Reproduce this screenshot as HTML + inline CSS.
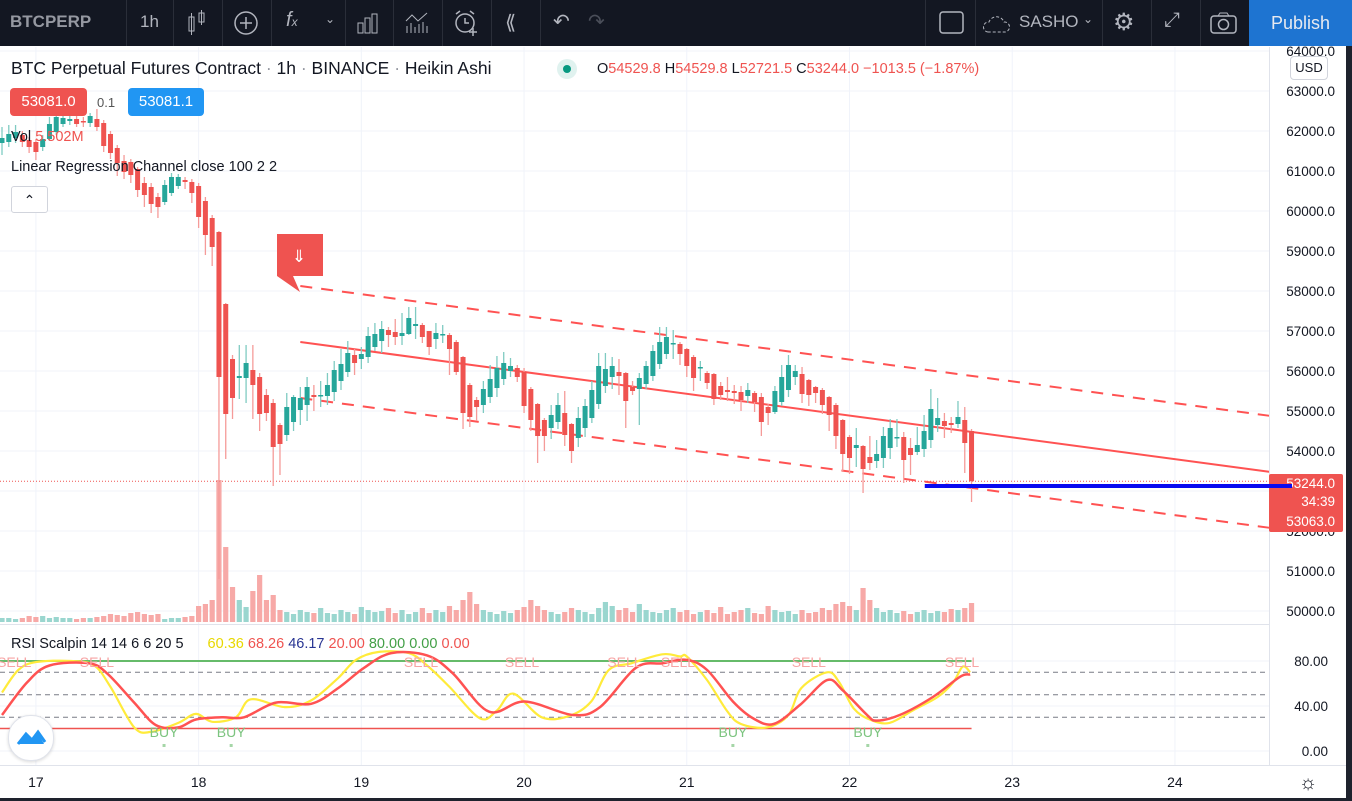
<!DOCTYPE html>
<html><head><meta charset="utf-8">
<style>
html,body{margin:0;padding:0;width:1352px;height:801px;overflow:hidden;background:#fff;font-family:"Liberation Sans",sans-serif}
#tb{position:absolute;left:0;top:0;width:1352px;height:46px;background:#131722;color:#b2b5be}
.sep{position:absolute;top:0;width:1px;height:46px;background:#2a2e39}
.ti{position:absolute;top:12px;font-size:17px;color:#b2b5be}
#chart{position:absolute;left:0;top:0}
</style></head><body>
<svg id="chart" width="1352" height="801" xmlns="http://www.w3.org/2000/svg" font-family="Liberation Sans, sans-serif">
<g id="grid"></g>
<g id="vol"></g>
<g id="chan"></g>
<g id="cand"></g>
<g id="rsi"></g>
<g id="axes"></g>
</svg>

<div id="tb">
  <div class="ti" style="left:10px;font-weight:bold;color:#9598a1">BTCPERP</div>
  <div class="sep" style="left:126px"></div>
  <div class="ti" style="left:140px;">1h</div>
  <div class="sep" style="left:173px"></div>
  <svg style="position:absolute;left:186px;top:10px" width="22" height="26"><rect x="3" y="7" width="5" height="14" fill="none" stroke="#b2b5be"/><line x1="5.5" y1="3" x2="5.5" y2="25" stroke="#b2b5be"/><rect x="13" y="3" width="5" height="9" fill="none" stroke="#b2b5be"/><line x1="15.5" y1="0" x2="15.5" y2="15" stroke="#b2b5be"/></svg>
  <div class="sep" style="left:222px"></div>
  <svg style="position:absolute;left:233px;top:10px" width="26" height="26"><circle cx="13" cy="13" r="11" fill="none" stroke="#b2b5be" stroke-width="1.5"/><line x1="13" y1="7" x2="13" y2="19" stroke="#b2b5be" stroke-width="1.5"/><line x1="7" y1="13" x2="19" y2="13" stroke="#b2b5be" stroke-width="1.5"/></svg>
  <div class="sep" style="left:271px"></div>
  <div class="ti" style="left:286px;top:9px;font-size:20px;font-style:italic">f<span style="font-size:12px">x</span></div>
  <div class="ti" style="left:325px;top:12px;font-size:12px">&#8964;</div>
  <div class="sep" style="left:345px"></div>
  <svg style="position:absolute;left:357px;top:13px" width="22" height="22"><rect x="1" y="10" width="5" height="10" fill="none" stroke="#b2b5be"/><rect x="8" y="5" width="5" height="15" fill="none" stroke="#b2b5be"/><rect x="15" y="1" width="5" height="19" fill="none" stroke="#b2b5be"/></svg>
  <div class="sep" style="left:393px"></div>
  <svg style="position:absolute;left:405px;top:12px" width="24" height="22"><polyline points="1,9 7,3 13,9 22,1" fill="none" stroke="#b2b5be"/><path d="M2 14v7M6 11v10M10 15v6M14 12v9M18 10v11M22 14v7" stroke="#b2b5be"/></svg>
  <div class="sep" style="left:442px"></div>
  <svg style="position:absolute;left:453px;top:9px" width="28" height="28"><circle cx="12" cy="14" r="9" fill="none" stroke="#b2b5be" stroke-width="1.5"/><path d="M12 9v5h4M3 5l4-3M21 5l-4-3M20 19v8M16 23h8" stroke="#b2b5be" stroke-width="1.5" fill="none"/></svg>
  <div class="sep" style="left:491px"></div>
  <div class="ti" style="left:505px;top:10px;font-size:20px">&#10218;</div>
  <div class="sep" style="left:540px"></div>
  <div class="ti" style="left:553px;top:9px;font-size:20px">&#8630;</div>
  <div class="ti" style="left:588px;top:9px;font-size:20px;color:#4a4e59">&#8631;</div>
  <div class="sep" style="left:925px"></div>
  <svg style="position:absolute;left:939px;top:11px" width="26" height="24"><rect x="1" y="1" width="23" height="21" rx="3" fill="none" stroke="#b2b5be" stroke-width="1.5"/></svg>
  <div class="sep" style="left:975px"></div>
  <svg style="position:absolute;left:983px;top:11px" width="28" height="24"><path d="M5 21a5 5 0 0 1 1-10a8 8 0 0 1 15 0a5 5 0 0 1 1 10z" fill="none" stroke="#b2b5be" stroke-dasharray="3 2"/></svg>
  <div class="ti" style="left:1019px;top:12px;font-size:17px">SASHO</div>
  <div class="ti" style="left:1083px;top:12px;font-size:12px">&#8964;</div>
  <div class="sep" style="left:1102px"></div>
  <div class="ti" style="left:1113px;top:8px;font-size:24px">&#9881;</div>
  <div class="sep" style="left:1151px"></div>
  <div class="ti" style="left:1164px;top:9px;font-size:20px">&#10530;</div>
  <div class="sep" style="left:1200px"></div>
  <svg style="position:absolute;left:1210px;top:12px" width="28" height="22"><rect x="1" y="4" width="25" height="17" rx="3" fill="none" stroke="#b2b5be" stroke-width="1.5"/><circle cx="13.5" cy="12.5" r="5" fill="none" stroke="#b2b5be" stroke-width="1.5"/><path d="M8 4l2-3h7l2 3" fill="none" stroke="#b2b5be"/></svg>
  <div style="position:absolute;left:1249px;top:0;width:103px;height:46px;background:#1e74d1;color:#e8eaf0;font-size:18px;line-height:46px;text-align:center">Publish</div>
</div>

<div style="position:absolute;left:11px;top:58px;font-size:17.5px;color:#131722;white-space:nowrap">BTC Perpetual Futures Contract <span style="color:#9598a1">·</span> 1h <span style="color:#9598a1">·</span> BINANCE <span style="color:#9598a1">·</span> Heikin Ashi</div>
<div style="position:absolute;left:557px;top:59px;width:20px;height:20px;border-radius:10px;background:#e0f2ef"><div style="position:absolute;left:6px;top:6px;width:8px;height:8px;border-radius:4px;background:#089981"></div></div>
<div style="position:absolute;left:597px;top:61px;font-size:14.5px;color:#131722;white-space:nowrap">O<span style="color:#ef5350">54529.8</span> H<span style="color:#ef5350">54529.8</span> L<span style="color:#ef5350">52721.5</span> C<span style="color:#ef5350">53244.0 −1013.5 (−1.87%)</span></div>
<div style="position:absolute;left:10px;top:88px;width:77px;height:28px;background:#ef5350;border-radius:4px;color:#fff;font-size:15px;line-height:28px;text-align:center">53081.0</div>
<div style="position:absolute;left:97px;top:95px;font-size:13px;color:#555">0.1</div>
<div style="position:absolute;left:128px;top:88px;width:76px;height:28px;background:#2196f3;border-radius:4px;color:#fff;font-size:15px;line-height:28px;text-align:center">53081.1</div>
<div style="position:absolute;left:11px;top:129px;font-size:14.5px;color:#131722">Vol <span style="color:#ef5350">5.502M</span></div>
<div style="position:absolute;left:11px;top:159px;font-size:14.5px;color:#131722">Linear Regression Channel close 100 2 2</div>
<div style="position:absolute;left:11px;top:186px;width:35px;height:25px;border:1px solid #d1d4dc;border-radius:3px;background:#fff;text-align:center;font-size:14px;line-height:26px;color:#131722">&#8963;</div>
<div style="position:absolute;left:11px;top:636px;font-size:14.5px;color:#131722;white-space:nowrap">RSI Scalpin 14 14 6 6 20 5 <span style="margin-left:20px;color:#e8d800">60.36</span> <span style="color:#ef5350">68.26</span> <span style="color:#283593">46.17</span> <span style="color:#ef5350">20.00</span> <span style="color:#43a047">80.00</span> <span style="color:#43a047">0.00</span> <span style="color:#ef5350">0.00</span></div>
<div style="position:absolute;left:1290px;top:56px;width:36px;height:22px;border:1px solid #d1d4dc;border-radius:4px;background:#fff;font-size:13px;line-height:22px;text-align:center;color:#131722">USD</div>
<div style="position:absolute;left:8px;top:715px;width:44px;height:44px;border-radius:22px;background:#fff;border:1px solid #e0e3eb;box-shadow:0 1px 3px rgba(0,0,0,.15)"><svg width="44" height="44"><path d="M10 28l7-9 6 6 6-8 6 11z" fill="#2196f3"/><path d="M9 28l8-10 6 6 6-8 7 10" fill="none" stroke="#2196f3" stroke-width="3"/></svg></div>

<script>
// ---- candle data (Heikin Ashi, hourly) ----
const opens=[61700,61725,61825,61900,61775,61725,61600,61800,61975,62175,62250,62300,62250,62200,62300,62200,61925,61575,61250,61225,61050,60700,60600,60350,60225,60450,60625,60775,60725,60625,60250,59825,59475,57675,56300,55825,55825,56025,55850,55400,55200,54650,54400,54725,55025,55150,55400,55375,55375,55475,55750,55975,56400,56300,56350,56600,56750,57025,56975,56875,56925,57125,57150,57000,56800,56900,56900,56725,56350,55650,55275,55150,55350,55575,55800,56000,56075,55975,55550,55175,54775,54575,54725,54950,54675,54325,54575,54825,55175,55625,55850,55975,55950,55600,55550,55675,55875,56175,56425,56675,56675,56550,56350,56075,55950,55925,55625,55525,55500,55475,55375,55450,55350,55100,54975,55225,55525,55850,55925,55775,55600,55525,55350,55150,54775,54350,54075,54125,53850,53750,53825,54075,54325,54350,54075,53975,54050,54275,54650,54750,54700,54675,54775,54500];
const closes=[61825,61925,61975,61725,61600,61475,61800,62175,62350,62325,62300,62175,62225,62375,62100,61625,61450,61200,60975,60900,60525,60400,60175,60100,60650,60850,60850,60725,60450,59850,59400,59100,55850,54925,55325,55875,56200,55650,54925,54950,54100,54175,55100,55350,55325,55600,55350,55400,55650,56025,56175,56450,56200,56425,56875,56925,57050,56900,56850,56950,57325,57175,56850,56600,56950,56925,56550,55975,54950,54850,55100,55550,55800,56075,56200,56125,55850,55125,54775,54375,54375,54900,55150,54400,54000,54825,55125,55525,56125,56050,56125,55875,55250,55500,55825,56125,56500,56725,56850,56700,56425,56125,55825,56100,55700,55300,55400,55475,55450,55275,55525,55225,54725,54950,55500,55850,56150,56000,55425,55400,55450,55150,54900,54375,53925,53825,54150,53550,53700,53925,54375,54575,54350,53775,53900,54150,54500,55050,54825,54625,54650,54850,54200,53244];
const highs=[62100,62150,62150,62000,61850,61800,61900,62350,62500,62450,62400,62400,62350,62450,62550,62275,62000,61650,61400,61300,61100,60850,60700,60450,60775,60950,60925,60850,60800,60700,60350,59900,59500,57700,56400,56650,56650,56650,55950,55550,55300,54700,55450,55400,55600,55850,55650,55750,55950,56250,56550,56750,56550,56600,57100,57200,57250,57100,57300,57450,57600,57600,57200,57000,57200,57150,56950,56775,56375,55700,55350,55750,56150,56375,56475,56325,56150,56075,55600,55200,54825,55150,55450,55500,54700,55100,55300,55750,56450,56450,56350,56300,55975,55750,55950,56250,56650,57100,57100,57025,56725,56575,56400,56250,56000,55950,55725,55850,55650,55625,55700,55500,55450,55175,55625,56150,56400,56150,56100,55800,55625,55575,55375,55200,54800,54400,54575,54150,54375,54275,54600,54800,54800,54475,54325,54600,54900,55550,55325,54950,54850,55250,55100,54550];
const lows=[61400,61600,61700,61600,61450,61275,61500,61750,61900,62100,62150,62100,62100,62100,62000,61475,61300,60875,60800,60700,60350,60100,59950,59825,60150,60375,60550,60550,60200,59575,58900,58625,50800,53800,54800,55300,55200,54800,54500,54750,53125,53400,54250,54500,54650,54750,55000,55100,55150,55250,55525,55850,55900,56050,56200,56500,56450,56600,56650,56650,56900,56800,56700,56400,56550,56700,55900,55900,54550,54600,54750,54950,55200,55350,55650,55850,55725,54950,54500,53700,54000,54300,54550,54125,53700,54100,54350,54700,55050,55450,55550,55400,54575,55400,54650,55550,55750,56050,56300,56300,56150,55850,55500,55750,55550,55150,55275,55250,55175,55000,55200,54975,54375,54650,54925,55125,55350,55650,55200,55125,55200,54925,54500,54050,53475,53425,53600,52950,53525,53575,53575,53800,54100,53200,53400,53900,53850,54075,54475,54325,54450,54575,53450,52725];
const volumes=[4,4,3,4,6,5,6,4,5,4,4,3,4,4,5,6,8,7,6,9,10,8,7,8,3,4,4,5,6,16,18,22,142,75,35,22,15,31,47,22,27,12,10,8,12,10,9,14,9,8,12,10,8,15,12,10,11,14,9,12,8,10,14,9,12,10,16,12,22,30,18,12,10,8,11,9,12,15,22,16,12,10,8,10,14,12,10,8,14,20,16,12,14,10,18,12,10,9,12,14,10,12,8,10,12,9,15,8,10,12,14,9,8,16,12,10,11,8,12,9,10,14,12,18,20,16,12,34,22,14,10,12,9,11,8,10,12,9,11,10,13,12,14,19];
const priceTicks=[64000,63000,62000,61000,60000,59000,58000,57000,56000,55000,54000,53000,52000,51000,50000];
const dayLabels=["17","18","19","20","21","22","23","24"];
const dayStartBar=[5,29,53,77,101,125,149,173];
// regression channel: start bar, start value, slope per bar, deviation
const channelStart=[44,56725];
const channelSlope=[-22.7];
const channelDev=[1400];
const channelEndBar=[187];
// RSI scalping (fast yellow / slow red), positions in bar index
const rsiFastBars=[0,2.4,5,10.2,13.6,16,19.5,22,26,28.6,31,34.5,36.7,41.7,45.6,49.6,52.2,55.5,60,62.7,66,70.5,73,75.4,79.6,83.6,86.9,89.5,92.8,97.4,100,101,104,107,109,112.8,116,117.9,121.7,123.5,125.6,128,130.9,134.6,138,140.3,141.7,142.8];
const rsiFastVals=[52,72,79,80,76,57,21,17,25,33,26,30,46,39,45,65,81,88,87,76,57,29,36,51,30,31,44,72,78,86,84,84,63,35,24,21,32,56,70,61,38,28,25,37,48,61,75,70];
const rsiSlowBars=[0,3.7,7,12.8,15.5,19.5,22.7,26,28.6,32.4,35.7,40.4,45.6,49.6,53.4,57.4,62.7,66.5,71.8,77.1,84.2,88.2,93.5,97.4,101,104,107.8,110.8,113.8,117.7,121.7,124,127.6,129,132.4,137.3,141.3,142.8];
const rsiSlowVals=[32,61,76,78,69,43,23,21,28,30,30,43,42,56,74,87,85,69,35,44,32,39,74,78,81,72,44,29,24,41,63,54,32,27,32,48,66,68];
const sellMarks=[1.8,14,61.8,76.7,91.8,99.7,119,141.6];
const buyMarks=[23.9,33.8,107.8,127.7];
const rsiTicks=[80,40,0];
const lastPrice=[53244];
const blueLevel=[53125];
const blueStartBar=[136.1];

// ---- axis functions ----
const NS="http://www.w3.org/2000/svg";
const xB=i=>2+6.78*i;
const yP=p=>51+(64000-p)*0.04;
const yR=v=>751-1.125*v;
const yV=v=>622-v;
function mk(tag,attrs,parent,text){const e=document.createElementNS(NS,tag);for(const k in attrs)e.setAttribute(k,attrs[k]);if(text!==undefined)e.textContent=text;parent.appendChild(e);return e;}
const G=id=>document.getElementById(id);
const AXIS_X=1269;

// grid
const grid=G('grid');
priceTicks.forEach(p=>{const l=mk('line',{x1:0,x2:AXIS_X,y1:yP(p),y2:yP(p),stroke:'#f0f3fa','stroke-width':1},grid);

});
dayStartBar.forEach(b=>{const l=mk('line',{x1:xB(b),x2:xB(b),y1:47,y2:765,stroke:'#f0f3fa','stroke-width':1},grid);

});
[80,40,0].forEach(v=>{const l=mk('line',{x1:0,x2:AXIS_X,y1:yR(v),y2:yR(v),stroke:'#f0f3fa'},grid);

});

// volume
const vg=G('vol');
volumes.forEach((v,i)=>{const up=closes[i]>=opens[i];
const r=mk('rect',{x:xB(i)-2.6,y:yV(v),width:5.2,height:v,fill:up?'#9ad6cf':'#f7a9a7'},vg);

});

// channel
const cg=G('chan');
const b0=channelStart[0],v0=channelStart[1],s=channelSlope[0],d=channelDev[0],b1=channelEndBar[0];
const mid=mk('line',{x1:xB(b0),y1:yP(v0),x2:xB(b1),y2:yP(v0+s*(b1-b0)),stroke:'#ff5252','stroke-width':2},cg);


[d,-d].forEach(o=>{const l=mk('line',{x1:xB(b0),y1:yP(v0+o),x2:xB(b1),y2:yP(v0+o+s*(b1-b0)),stroke:'#ff5252','stroke-width':2,'stroke-dasharray':'12 9'},cg);

});

// last price dotted line
const lp=mk('line',{x1:0,x2:AXIS_X,y1:yP(lastPrice[0]),y2:yP(lastPrice[0]),stroke:'#ef5350','stroke-dasharray':'1 2','stroke-width':1},cg);



// candles
const kg=G('cand');
opens.forEach((o,i)=>{const c=closes[i],up=c>=o,col=up?'#26a69a':'#ef5350',x=xB(i);
const w=mk('line',{x1:x,x2:x,y1:yP(highs[i]),y2:yP(lows[i]),stroke:up?'#7fcbc2':'#f59b99','stroke-width':1.3},kg);


const top=yP(Math.max(o,c)),h=Math.max(1.5,Math.abs(yP(o)-yP(c)));
const b=mk('rect',{x:x-2.5,y:top,width:5,height:h,fill:col},kg);

});

// blue horizontal drawing
const bl=mk('line',{x1:xB(blueStartBar[0]),x2:1273,y1:yP(blueLevel[0]),y2:yP(blueLevel[0]),stroke:'#0a0af0','stroke-width':4},kg);



// sell signal flag
const fl=mk('path',{d:'M277 234h46v42h-24l-6 0l7 16l-23-16z',fill:'#ef5350'},kg);


const fa=mk('text',{x:299,y:262,'font-size':17,fill:'#fff','text-anchor':'middle'},kg,'⇓');



// RSI pane
const rg=G('rsi');
const sepl=mk('line',{x1:0,x2:1352,y1:624.5,y2:624.5,stroke:'#e0e3eb'},rg);


[70,50,30].forEach(v=>{const l=mk('line',{x1:0,x2:AXIS_X,y1:yR(v),y2:yR(v),stroke:'#787b86','stroke-dasharray':'5 4'},rg);

});
const gl=mk('line',{x1:0,x2:xB(143),y1:yR(80),y2:yR(80),stroke:'#66bb6a','stroke-width':2},rg);


const rl=mk('line',{x1:0,x2:xB(143),y1:yR(20),y2:yR(20),stroke:'#ef5350','stroke-width':1.5},rg);


function smoothPath(bx,vals){const p=bx.map((b,i)=>[xB(b),yR(vals[i])]);let dd='M'+p[0][0]+' '+p[0][1];
for(let i=0;i<p.length-1;i++){const a=p[Math.max(0,i-1)],b=p[i],c=p[i+1],e=p[Math.min(p.length-1,i+2)];
const c1x=b[0]+(c[0]-a[0])/6,c1y=b[1]+(c[1]-a[1])/6,c2x=c[0]-(e[0]-b[0])/6,c2y=c[1]-(e[1]-b[1])/6;
dd+=` C${c1x.toFixed(1)} ${c1y.toFixed(1)} ${c2x.toFixed(1)} ${c2y.toFixed(1)} ${c[0].toFixed(1)} ${c[1].toFixed(1)}`;}return dd;}
const fy=mk('path',{d:smoothPath(rsiFastBars,rsiFastVals),fill:'none',stroke:'#ffeb3b','stroke-width':2.2},rg);


const sr=mk('path',{d:smoothPath(rsiSlowBars,rsiSlowVals),fill:'none',stroke:'#ff5252','stroke-width':2.5},rg);


sellMarks.forEach(b=>{const t=mk('text',{x:xB(b),y:667,'font-size':14,fill:'#f7a4a4','text-anchor':'middle'},rg,'SELL');

});
buyMarks.forEach(b=>{const t=mk('text',{x:xB(b),y:737,'font-size':14,fill:'#7cc47f','text-anchor':'middle'},rg,'BUY');


const q=mk('rect',{x:xB(b)-1.5,y:744,width:3,height:3,fill:'#a5d6a7'},rg);

});

// axes
const ag=G('axes');
const pa=mk('rect',{x:AXIS_X,y:47,width:77,height:719,fill:'#fff'},ag);


const al=mk('line',{x1:AXIS_X+0.5,x2:AXIS_X+0.5,y1:47,y2:765,stroke:'#e0e3eb'},ag);


priceTicks.forEach(p=>{const t=mk('text',{x:1335,y:yP(p)+5,'font-size':13.5,fill:'#131722','text-anchor':'end'},ag,p.toFixed(1));

});
rsiTicks.forEach(v=>{const t=mk('text',{x:1328,y:yR(v)+5,'font-size':13.5,fill:'#131722','text-anchor':'end'},ag,v.toFixed(2));

});
const pl=mk('rect',{x:AXIS_X,y:474,width:74,height:58,fill:'#ef5350',rx:2},ag);


[[lastPrice[0].toFixed(1),488],['34:39',506],['53063.0',526]].forEach(a=>{const t=mk('text',{x:1335,y:a[1],'font-size':13.5,fill:'#fff','text-anchor':'end'},ag,a[0]);

});
const bl2=mk('line',{x1:AXIS_X,x2:1292,y1:yP(blueLevel[0]),y2:yP(blueLevel[0]),stroke:'#0a0af0','stroke-width':4},ag);


const ta=mk('line',{x1:0,x2:1346,y1:765.5,y2:765.5,stroke:'#e0e3eb'},ag);


dayLabels.forEach((lab,i)=>{const t=mk('text',{x:xB(dayStartBar[i]),y:787,'font-size':14,fill:'#131722','text-anchor':'middle'},ag,lab);

});
const gear=mk('text',{x:1308,y:789,'font-size':20,fill:'#131722','text-anchor':'middle'},ag,'☼');


const rb=mk('rect',{x:1346,y:46,width:6,height:755,fill:'#1e222d'},ag);


const bb=mk('rect',{x:0,y:798,width:1352,height:3,fill:'#1e222d'},ag);


</script>
</body></html>
